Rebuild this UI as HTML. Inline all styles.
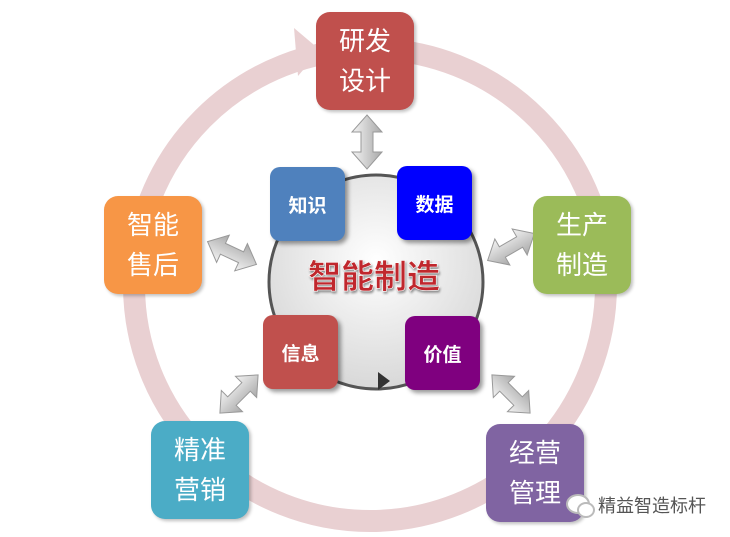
<!DOCTYPE html>
<html><head><meta charset="utf-8"><style>
body{margin:0;background:#fff;width:730px;height:537px;overflow:hidden;position:relative;font-family:"Liberation Sans","Noto Sans CJK SC",sans-serif}
.b{position:absolute;width:98px;height:98px;border-radius:14px;color:#fff;font-size:26px;line-height:40px;text-align:center;display:flex;align-items:center;justify-content:center;box-shadow:2px 2px 3px rgba(0,0,0,.25)}
.s{position:absolute;width:75px;height:74px;border-radius:10px;color:#fff;font-size:19px;font-weight:bold;display:flex;align-items:center;justify-content:center;box-shadow:3px 3px 4px rgba(0,0,0,.4)}
</style></head><body>
<svg width="730" height="537" style="position:absolute;left:0;top:0">
<defs>
<radialGradient id="g" cx="50%" cy="40%" r="60%"><stop offset="0" stop-color="#fff"/><stop offset="1" stop-color="#d8d8d8"/></radialGradient>
<linearGradient id="a" x1="0" x2="1"><stop offset="0" stop-color="#f4f4f4"/><stop offset="1" stop-color="#a8a8a8"/></linearGradient>
<path id="da" d="M0,-27 L15,-10 L6,-10 L6,10 L15,10 L0,27 L-15,10 L-6,10 L-6,-10 L-15,-10 Z" fill="url(#a)" stroke="#999" stroke-width="1"/>
</defs>
<circle cx="370" cy="285" r="236" fill="none" stroke="#e9d0d2" stroke-width="22"/>
<polygon points="294,28 320,50 298,76" fill="#e9d0d2"/>
<circle cx="376" cy="282" r="107" fill="url(#g)" stroke="#555" stroke-width="3"/>
<polygon points="378,372 390,381 378,390" fill="#333"/>
<use href="#da" transform="translate(367,142)"/>
<use href="#da" transform="translate(232,253) rotate(-65)"/>
<use href="#da" transform="translate(511,247) rotate(60)"/>
<use href="#da" transform="translate(239,394) rotate(45)"/>
<use href="#da" transform="translate(511,394) rotate(-45)"/>
<text x="374" y="288" text-anchor="middle" font-size="33" font-weight="bold" fill="#c0272d" stroke="#fff" stroke-width="0.6" font-family="Liberation Sans,Noto Sans CJK SC,sans-serif" style="filter:drop-shadow(1px 2px 1px rgba(0,0,0,.4))">智能制造</text>
</svg>
<div class="b" style="left:316px;top:12px;background:#c0504d">研发<br>设计</div>
<div class="b" style="left:533px;top:196px;background:#9bbb59">生产<br>制造</div>
<div class="b" style="left:104px;top:196px;background:#f79646">智能<br>售后</div>
<div class="b" style="left:151px;top:421px;background:#4bacc6">精准<br>营销</div>
<div class="b" style="left:486px;top:424px;background:#8064a2">经营<br>管理</div>
<div class="s" style="left:270px;top:167px;background:#4f81bd">知识</div>
<div class="s" style="left:397px;top:166px;background:#0000ff">数据</div>
<div class="s" style="left:263px;top:315px;background:#c0504d">信息</div>
<div class="s" style="left:405px;top:316px;background:#7f007f">价值</div>
<div style="position:absolute;left:566px;top:494px;width:20px;height:16px;border:2px solid #bbb;border-radius:50%;background:#fff"></div>
<div style="position:absolute;left:577px;top:502px;width:14px;height:12px;border:2px solid #bbb;border-radius:50%;background:#fff"></div>
<div style="position:absolute;left:598px;top:492px;font-size:18px;color:#555">精益智造标杆</div>
</body></html>
